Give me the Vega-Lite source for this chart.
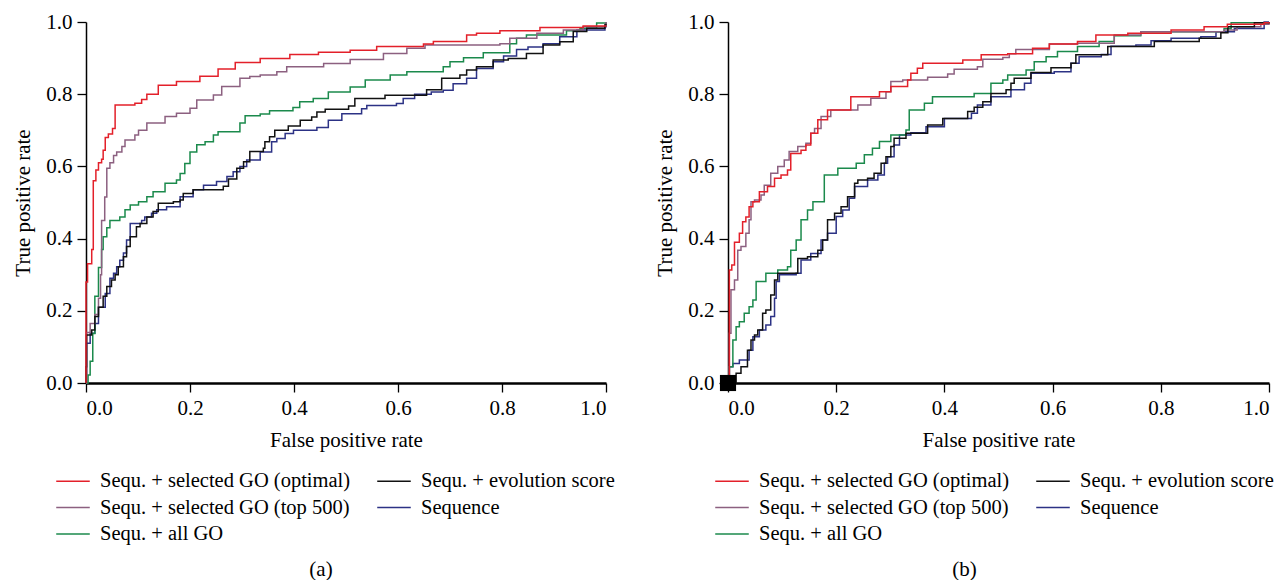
{
  "$schema": "https://vega.github.io/schema/vega-lite/v6.json",
  "padding": {"left": 12, "top": 11, "right": 0, "bottom": 0},
  "background": "white",
  "config": {
    "view": {"stroke": null},
    "font": "Liberation Serif, Times New Roman, DejaVu Serif, serif",
    "concat": {"spacing": 39},
    "axis": {
      "domainColor": "black", "domainWidth": 1.5, "tickColor": "black", "tickSize": 9, "tickWidth": 1.3,
      "labelFont": "Liberation Serif, Times New Roman, DejaVu Serif, serif", "labelFontSize": 21, "labelColor": "black", "labelPadding": 5,
      "titleFont": "Liberation Serif, Times New Roman, DejaVu Serif, serif", "titleFontSize": 21, "titleFontWeight": "normal", "titleColor": "black",
      "grid": false
    },
    "axisX": {"domainWidth": 2.5, "titlePadding": 11},
    "axisY": {"titlePadding": 12},
    "legend": {
      "orient": "none", "columns": 2, "symbolType": "M-1.5,0H1.5", "symbolSize": 500, "symbolStrokeWidth": 1.5, "symbolFillColor": "transparent",
      "labelFont": "Liberation Serif, Times New Roman, DejaVu Serif, serif", "labelFontSize": 20.5, "labelColor": "black", "labelOffset": 15,
      "columnPadding": 23, "rowPadding": 3.5, "labelLimit": 500, "padding": 0
    },
    "title": {"font": "Liberation Serif, Times New Roman, DejaVu Serif, serif", "fontSize": 21, "fontWeight": "normal", "color": "black"}
  },
  "datasets": {
    "a": [
      {"s": "Sequence", "fpr": 0, "tpr": 0}, {"s": "Sequence", "fpr": 0.001, "tpr": 0.11}, {"s": "Sequence", "fpr": 0.008, "tpr": 0.138}, {"s": "Sequence", "fpr": 0.017, "tpr": 0.165}, {"s": "Sequence", "fpr": 0.024, "tpr": 0.21}, {"s": "Sequence", "fpr": 0.037, "tpr": 0.248}, {"s": "Sequence", "fpr": 0.046, "tpr": 0.29}, {"s": "Sequence", "fpr": 0.053, "tpr": 0.304}, {"s": "Sequence", "fpr": 0.059, "tpr": 0.322}, {"s": "Sequence", "fpr": 0.065, "tpr": 0.34}, {"s": "Sequence", "fpr": 0.072, "tpr": 0.36}, {"s": "Sequence", "fpr": 0.078, "tpr": 0.396}, {"s": "Sequence", "fpr": 0.085, "tpr": 0.442}, {"s": "Sequence", "fpr": 0.107, "tpr": 0.45}, {"s": "Sequence", "fpr": 0.113, "tpr": 0.46}, {"s": "Sequence", "fpr": 0.126, "tpr": 0.47}, {"s": "Sequence", "fpr": 0.136, "tpr": 0.48}, {"s": "Sequence", "fpr": 0.155, "tpr": 0.488}, {"s": "Sequence", "fpr": 0.181, "tpr": 0.516}, {"s": "Sequence", "fpr": 0.206, "tpr": 0.535}, {"s": "Sequence", "fpr": 0.226, "tpr": 0.548}, {"s": "Sequence", "fpr": 0.251, "tpr": 0.558}, {"s": "Sequence", "fpr": 0.271, "tpr": 0.572}, {"s": "Sequence", "fpr": 0.283, "tpr": 0.585}, {"s": "Sequence", "fpr": 0.296, "tpr": 0.6}, {"s": "Sequence", "fpr": 0.309, "tpr": 0.618}, {"s": "Sequence", "fpr": 0.335, "tpr": 0.64}, {"s": "Sequence", "fpr": 0.357, "tpr": 0.668}, {"s": "Sequence", "fpr": 0.367, "tpr": 0.677}, {"s": "Sequence", "fpr": 0.383, "tpr": 0.691}, {"s": "Sequence", "fpr": 0.399, "tpr": 0.7}, {"s": "Sequence", "fpr": 0.444, "tpr": 0.708}, {"s": "Sequence", "fpr": 0.466, "tpr": 0.728}, {"s": "Sequence", "fpr": 0.492, "tpr": 0.746}, {"s": "Sequence", "fpr": 0.53, "tpr": 0.76}, {"s": "Sequence", "fpr": 0.54, "tpr": 0.769}, {"s": "Sequence", "fpr": 0.597, "tpr": 0.774}, {"s": "Sequence", "fpr": 0.61, "tpr": 0.788}, {"s": "Sequence", "fpr": 0.632, "tpr": 0.8}, {"s": "Sequence", "fpr": 0.664, "tpr": 0.806}, {"s": "Sequence", "fpr": 0.687, "tpr": 0.811}, {"s": "Sequence", "fpr": 0.706, "tpr": 0.829}, {"s": "Sequence", "fpr": 0.732, "tpr": 0.844}, {"s": "Sequence", "fpr": 0.751, "tpr": 0.871}, {"s": "Sequence", "fpr": 0.783, "tpr": 0.89}, {"s": "Sequence", "fpr": 0.803, "tpr": 0.906}, {"s": "Sequence", "fpr": 0.828, "tpr": 0.924}, {"s": "Sequence", "fpr": 0.85, "tpr": 0.931}, {"s": "Sequence", "fpr": 0.879, "tpr": 0.94}, {"s": "Sequence", "fpr": 0.911, "tpr": 0.959}, {"s": "Sequence", "fpr": 0.944, "tpr": 0.978}, {"s": "Sequence", "fpr": 0.998, "tpr": 0.987}, {"s": "Sequence", "fpr": 1, "tpr": 0.99},
      {"s": "Sequ. + all GO", "fpr": 0, "tpr": 0}, {"s": "Sequ. + all GO", "fpr": 0.004, "tpr": 0.022}, {"s": "Sequ. + all GO", "fpr": 0.008, "tpr": 0.06}, {"s": "Sequ. + all GO", "fpr": 0.013, "tpr": 0.137}, {"s": "Sequ. + all GO", "fpr": 0.017, "tpr": 0.24}, {"s": "Sequ. + all GO", "fpr": 0.024, "tpr": 0.32}, {"s": "Sequ. + all GO", "fpr": 0.03, "tpr": 0.37}, {"s": "Sequ. + all GO", "fpr": 0.033, "tpr": 0.405}, {"s": "Sequ. + all GO", "fpr": 0.04, "tpr": 0.43}, {"s": "Sequ. + all GO", "fpr": 0.046, "tpr": 0.45}, {"s": "Sequ. + all GO", "fpr": 0.065, "tpr": 0.46}, {"s": "Sequ. + all GO", "fpr": 0.075, "tpr": 0.48}, {"s": "Sequ. + all GO", "fpr": 0.085, "tpr": 0.493}, {"s": "Sequ. + all GO", "fpr": 0.101, "tpr": 0.502}, {"s": "Sequ. + all GO", "fpr": 0.117, "tpr": 0.516}, {"s": "Sequ. + all GO", "fpr": 0.129, "tpr": 0.53}, {"s": "Sequ. + all GO", "fpr": 0.152, "tpr": 0.553}, {"s": "Sequ. + all GO", "fpr": 0.174, "tpr": 0.562}, {"s": "Sequ. + all GO", "fpr": 0.181, "tpr": 0.58}, {"s": "Sequ. + all GO", "fpr": 0.19, "tpr": 0.608}, {"s": "Sequ. + all GO", "fpr": 0.2, "tpr": 0.64}, {"s": "Sequ. + all GO", "fpr": 0.213, "tpr": 0.66}, {"s": "Sequ. + all GO", "fpr": 0.229, "tpr": 0.668}, {"s": "Sequ. + all GO", "fpr": 0.245, "tpr": 0.687}, {"s": "Sequ. + all GO", "fpr": 0.254, "tpr": 0.696}, {"s": "Sequ. + all GO", "fpr": 0.296, "tpr": 0.72}, {"s": "Sequ. + all GO", "fpr": 0.306, "tpr": 0.74}, {"s": "Sequ. + all GO", "fpr": 0.335, "tpr": 0.745}, {"s": "Sequ. + all GO", "fpr": 0.353, "tpr": 0.754}, {"s": "Sequ. + all GO", "fpr": 0.398, "tpr": 0.763}, {"s": "Sequ. + all GO", "fpr": 0.411, "tpr": 0.779}, {"s": "Sequ. + all GO", "fpr": 0.437, "tpr": 0.788}, {"s": "Sequ. + all GO", "fpr": 0.466, "tpr": 0.806}, {"s": "Sequ. + all GO", "fpr": 0.508, "tpr": 0.82}, {"s": "Sequ. + all GO", "fpr": 0.537, "tpr": 0.839}, {"s": "Sequ. + all GO", "fpr": 0.585, "tpr": 0.853}, {"s": "Sequ. + all GO", "fpr": 0.617, "tpr": 0.862}, {"s": "Sequ. + all GO", "fpr": 0.687, "tpr": 0.876}, {"s": "Sequ. + all GO", "fpr": 0.7, "tpr": 0.89}, {"s": "Sequ. + all GO", "fpr": 0.726, "tpr": 0.901}, {"s": "Sequ. + all GO", "fpr": 0.764, "tpr": 0.915}, {"s": "Sequ. + all GO", "fpr": 0.815, "tpr": 0.94}, {"s": "Sequ. + all GO", "fpr": 0.828, "tpr": 0.955}, {"s": "Sequ. + all GO", "fpr": 0.847, "tpr": 0.964}, {"s": "Sequ. + all GO", "fpr": 0.924, "tpr": 0.976}, {"s": "Sequ. + all GO", "fpr": 0.95, "tpr": 0.983}, {"s": "Sequ. + all GO", "fpr": 0.982, "tpr": 0.997}, {"s": "Sequ. + all GO", "fpr": 1, "tpr": 1},
      {"s": "Sequ. + selected GO (top 500)", "fpr": 0, "tpr": 0}, {"s": "Sequ. + selected GO (top 500)", "fpr": 0.001, "tpr": 0.14}, {"s": "Sequ. + selected GO (top 500)", "fpr": 0.008, "tpr": 0.165}, {"s": "Sequ. + selected GO (top 500)", "fpr": 0.017, "tpr": 0.19}, {"s": "Sequ. + selected GO (top 500)", "fpr": 0.024, "tpr": 0.235}, {"s": "Sequ. + selected GO (top 500)", "fpr": 0.028, "tpr": 0.3}, {"s": "Sequ. + selected GO (top 500)", "fpr": 0.03, "tpr": 0.45}, {"s": "Sequ. + selected GO (top 500)", "fpr": 0.036, "tpr": 0.515}, {"s": "Sequ. + selected GO (top 500)", "fpr": 0.04, "tpr": 0.595}, {"s": "Sequ. + selected GO (top 500)", "fpr": 0.046, "tpr": 0.61}, {"s": "Sequ. + selected GO (top 500)", "fpr": 0.053, "tpr": 0.63}, {"s": "Sequ. + selected GO (top 500)", "fpr": 0.059, "tpr": 0.64}, {"s": "Sequ. + selected GO (top 500)", "fpr": 0.069, "tpr": 0.655}, {"s": "Sequ. + selected GO (top 500)", "fpr": 0.075, "tpr": 0.673}, {"s": "Sequ. + selected GO (top 500)", "fpr": 0.094, "tpr": 0.687}, {"s": "Sequ. + selected GO (top 500)", "fpr": 0.101, "tpr": 0.7}, {"s": "Sequ. + selected GO (top 500)", "fpr": 0.117, "tpr": 0.72}, {"s": "Sequ. + selected GO (top 500)", "fpr": 0.152, "tpr": 0.738}, {"s": "Sequ. + selected GO (top 500)", "fpr": 0.174, "tpr": 0.747}, {"s": "Sequ. + selected GO (top 500)", "fpr": 0.2, "tpr": 0.761}, {"s": "Sequ. + selected GO (top 500)", "fpr": 0.213, "tpr": 0.784}, {"s": "Sequ. + selected GO (top 500)", "fpr": 0.245, "tpr": 0.798}, {"s": "Sequ. + selected GO (top 500)", "fpr": 0.261, "tpr": 0.821}, {"s": "Sequ. + selected GO (top 500)", "fpr": 0.296, "tpr": 0.844}, {"s": "Sequ. + selected GO (top 500)", "fpr": 0.315, "tpr": 0.849}, {"s": "Sequ. + selected GO (top 500)", "fpr": 0.335, "tpr": 0.853}, {"s": "Sequ. + selected GO (top 500)", "fpr": 0.367, "tpr": 0.862}, {"s": "Sequ. + selected GO (top 500)", "fpr": 0.386, "tpr": 0.876}, {"s": "Sequ. + selected GO (top 500)", "fpr": 0.457, "tpr": 0.885}, {"s": "Sequ. + selected GO (top 500)", "fpr": 0.508, "tpr": 0.896}, {"s": "Sequ. + selected GO (top 500)", "fpr": 0.572, "tpr": 0.913}, {"s": "Sequ. + selected GO (top 500)", "fpr": 0.617, "tpr": 0.927}, {"s": "Sequ. + selected GO (top 500)", "fpr": 0.652, "tpr": 0.936}, {"s": "Sequ. + selected GO (top 500)", "fpr": 0.796, "tpr": 0.94}, {"s": "Sequ. + selected GO (top 500)", "fpr": 0.815, "tpr": 0.955}, {"s": "Sequ. + selected GO (top 500)", "fpr": 0.867, "tpr": 0.969}, {"s": "Sequ. + selected GO (top 500)", "fpr": 0.918, "tpr": 0.978}, {"s": "Sequ. + selected GO (top 500)", "fpr": 0.956, "tpr": 0.987}, {"s": "Sequ. + selected GO (top 500)", "fpr": 0.998, "tpr": 0.994}, {"s": "Sequ. + selected GO (top 500)", "fpr": 1, "tpr": 1},
      {"s": "Sequ. + evolution score", "fpr": 0, "tpr": 0}, {"s": "Sequ. + evolution score", "fpr": 0, "tpr": 0.045}, {"s": "Sequ. + evolution score", "fpr": 0.001, "tpr": 0.133}, {"s": "Sequ. + evolution score", "fpr": 0.011, "tpr": 0.147}, {"s": "Sequ. + evolution score", "fpr": 0.017, "tpr": 0.184}, {"s": "Sequ. + evolution score", "fpr": 0.024, "tpr": 0.21}, {"s": "Sequ. + evolution score", "fpr": 0.033, "tpr": 0.24}, {"s": "Sequ. + evolution score", "fpr": 0.04, "tpr": 0.267}, {"s": "Sequ. + evolution score", "fpr": 0.049, "tpr": 0.285}, {"s": "Sequ. + evolution score", "fpr": 0.056, "tpr": 0.3}, {"s": "Sequ. + evolution score", "fpr": 0.062, "tpr": 0.322}, {"s": "Sequ. + evolution score", "fpr": 0.072, "tpr": 0.35}, {"s": "Sequ. + evolution score", "fpr": 0.078, "tpr": 0.378}, {"s": "Sequ. + evolution score", "fpr": 0.085, "tpr": 0.405}, {"s": "Sequ. + evolution score", "fpr": 0.097, "tpr": 0.433}, {"s": "Sequ. + evolution score", "fpr": 0.104, "tpr": 0.442}, {"s": "Sequ. + evolution score", "fpr": 0.117, "tpr": 0.46}, {"s": "Sequ. + evolution score", "fpr": 0.129, "tpr": 0.475}, {"s": "Sequ. + evolution score", "fpr": 0.139, "tpr": 0.498}, {"s": "Sequ. + evolution score", "fpr": 0.168, "tpr": 0.502}, {"s": "Sequ. + evolution score", "fpr": 0.181, "tpr": 0.507}, {"s": "Sequ. + evolution score", "fpr": 0.187, "tpr": 0.525}, {"s": "Sequ. + evolution score", "fpr": 0.206, "tpr": 0.535}, {"s": "Sequ. + evolution score", "fpr": 0.264, "tpr": 0.545}, {"s": "Sequ. + evolution score", "fpr": 0.274, "tpr": 0.565}, {"s": "Sequ. + evolution score", "fpr": 0.29, "tpr": 0.595}, {"s": "Sequ. + evolution score", "fpr": 0.303, "tpr": 0.613}, {"s": "Sequ. + evolution score", "fpr": 0.315, "tpr": 0.641}, {"s": "Sequ. + evolution score", "fpr": 0.341, "tpr": 0.65}, {"s": "Sequ. + evolution score", "fpr": 0.344, "tpr": 0.668}, {"s": "Sequ. + evolution score", "fpr": 0.353, "tpr": 0.682}, {"s": "Sequ. + evolution score", "fpr": 0.363, "tpr": 0.7}, {"s": "Sequ. + evolution score", "fpr": 0.389, "tpr": 0.712}, {"s": "Sequ. + evolution score", "fpr": 0.412, "tpr": 0.728}, {"s": "Sequ. + evolution score", "fpr": 0.434, "tpr": 0.737}, {"s": "Sequ. + evolution score", "fpr": 0.444, "tpr": 0.751}, {"s": "Sequ. + evolution score", "fpr": 0.46, "tpr": 0.758}, {"s": "Sequ. + evolution score", "fpr": 0.505, "tpr": 0.767}, {"s": "Sequ. + evolution score", "fpr": 0.517, "tpr": 0.788}, {"s": "Sequ. + evolution score", "fpr": 0.575, "tpr": 0.797}, {"s": "Sequ. + evolution score", "fpr": 0.655, "tpr": 0.812}, {"s": "Sequ. + evolution score", "fpr": 0.684, "tpr": 0.844}, {"s": "Sequ. + evolution score", "fpr": 0.719, "tpr": 0.853}, {"s": "Sequ. + evolution score", "fpr": 0.732, "tpr": 0.867}, {"s": "Sequ. + evolution score", "fpr": 0.751, "tpr": 0.876}, {"s": "Sequ. + evolution score", "fpr": 0.783, "tpr": 0.895}, {"s": "Sequ. + evolution score", "fpr": 0.812, "tpr": 0.899}, {"s": "Sequ. + evolution score", "fpr": 0.847, "tpr": 0.913}, {"s": "Sequ. + evolution score", "fpr": 0.879, "tpr": 0.936}, {"s": "Sequ. + evolution score", "fpr": 0.911, "tpr": 0.945}, {"s": "Sequ. + evolution score", "fpr": 0.937, "tpr": 0.974}, {"s": "Sequ. + evolution score", "fpr": 0.963, "tpr": 0.983}, {"s": "Sequ. + evolution score", "fpr": 0.998, "tpr": 0.992}, {"s": "Sequ. + evolution score", "fpr": 1, "tpr": 0.995},
      {"s": "Sequ. + selected GO (optimal)", "fpr": 0, "tpr": 0}, {"s": "Sequ. + selected GO (optimal)", "fpr": 0, "tpr": 0.28}, {"s": "Sequ. + selected GO (optimal)", "fpr": 0.003, "tpr": 0.33}, {"s": "Sequ. + selected GO (optimal)", "fpr": 0.011, "tpr": 0.37}, {"s": "Sequ. + selected GO (optimal)", "fpr": 0.014, "tpr": 0.56}, {"s": "Sequ. + selected GO (optimal)", "fpr": 0.019, "tpr": 0.59}, {"s": "Sequ. + selected GO (optimal)", "fpr": 0.024, "tpr": 0.61}, {"s": "Sequ. + selected GO (optimal)", "fpr": 0.03, "tpr": 0.62}, {"s": "Sequ. + selected GO (optimal)", "fpr": 0.033, "tpr": 0.645}, {"s": "Sequ. + selected GO (optimal)", "fpr": 0.037, "tpr": 0.68}, {"s": "Sequ. + selected GO (optimal)", "fpr": 0.043, "tpr": 0.69}, {"s": "Sequ. + selected GO (optimal)", "fpr": 0.051, "tpr": 0.705}, {"s": "Sequ. + selected GO (optimal)", "fpr": 0.056, "tpr": 0.77}, {"s": "Sequ. + selected GO (optimal)", "fpr": 0.094, "tpr": 0.775}, {"s": "Sequ. + selected GO (optimal)", "fpr": 0.107, "tpr": 0.785}, {"s": "Sequ. + selected GO (optimal)", "fpr": 0.117, "tpr": 0.8}, {"s": "Sequ. + selected GO (optimal)", "fpr": 0.139, "tpr": 0.825}, {"s": "Sequ. + selected GO (optimal)", "fpr": 0.174, "tpr": 0.835}, {"s": "Sequ. + selected GO (optimal)", "fpr": 0.219, "tpr": 0.85}, {"s": "Sequ. + selected GO (optimal)", "fpr": 0.254, "tpr": 0.87}, {"s": "Sequ. + selected GO (optimal)", "fpr": 0.287, "tpr": 0.888}, {"s": "Sequ. + selected GO (optimal)", "fpr": 0.335, "tpr": 0.899}, {"s": "Sequ. + selected GO (optimal)", "fpr": 0.392, "tpr": 0.91}, {"s": "Sequ. + selected GO (optimal)", "fpr": 0.447, "tpr": 0.916}, {"s": "Sequ. + selected GO (optimal)", "fpr": 0.508, "tpr": 0.922}, {"s": "Sequ. + selected GO (optimal)", "fpr": 0.559, "tpr": 0.932}, {"s": "Sequ. + selected GO (optimal)", "fpr": 0.649, "tpr": 0.939}, {"s": "Sequ. + selected GO (optimal)", "fpr": 0.668, "tpr": 0.946}, {"s": "Sequ. + selected GO (optimal)", "fpr": 0.732, "tpr": 0.964}, {"s": "Sequ. + selected GO (optimal)", "fpr": 0.751, "tpr": 0.969}, {"s": "Sequ. + selected GO (optimal)", "fpr": 0.796, "tpr": 0.976}, {"s": "Sequ. + selected GO (optimal)", "fpr": 0.873, "tpr": 0.985}, {"s": "Sequ. + selected GO (optimal)", "fpr": 0.956, "tpr": 0.989}, {"s": "Sequ. + selected GO (optimal)", "fpr": 1, "tpr": 0.99}
    ],
    "b": [
      {"s": "Sequence", "fpr": 0, "tpr": 0}, {"s": "Sequence", "fpr": 0.0025, "tpr": 0.045}, {"s": "Sequence", "fpr": 0.009, "tpr": 0.054}, {"s": "Sequence", "fpr": 0.021, "tpr": 0.064}, {"s": "Sequence", "fpr": 0.039, "tpr": 0.091}, {"s": "Sequence", "fpr": 0.046, "tpr": 0.128}, {"s": "Sequence", "fpr": 0.058, "tpr": 0.147}, {"s": "Sequence", "fpr": 0.07, "tpr": 0.161}, {"s": "Sequence", "fpr": 0.079, "tpr": 0.184}, {"s": "Sequence", "fpr": 0.086, "tpr": 0.235}, {"s": "Sequence", "fpr": 0.089, "tpr": 0.281}, {"s": "Sequence", "fpr": 0.095, "tpr": 0.3}, {"s": "Sequence", "fpr": 0.126, "tpr": 0.304}, {"s": "Sequence", "fpr": 0.135, "tpr": 0.341}, {"s": "Sequence", "fpr": 0.153, "tpr": 0.359}, {"s": "Sequence", "fpr": 0.172, "tpr": 0.396}, {"s": "Sequence", "fpr": 0.184, "tpr": 0.415}, {"s": "Sequence", "fpr": 0.2, "tpr": 0.461}, {"s": "Sequence", "fpr": 0.212, "tpr": 0.479}, {"s": "Sequence", "fpr": 0.224, "tpr": 0.512}, {"s": "Sequence", "fpr": 0.234, "tpr": 0.544}, {"s": "Sequence", "fpr": 0.258, "tpr": 0.562}, {"s": "Sequence", "fpr": 0.277, "tpr": 0.576}, {"s": "Sequence", "fpr": 0.289, "tpr": 0.609}, {"s": "Sequence", "fpr": 0.295, "tpr": 0.627}, {"s": "Sequence", "fpr": 0.307, "tpr": 0.659}, {"s": "Sequence", "fpr": 0.317, "tpr": 0.687}, {"s": "Sequence", "fpr": 0.338, "tpr": 0.693}, {"s": "Sequence", "fpr": 0.366, "tpr": 0.71}, {"s": "Sequence", "fpr": 0.4, "tpr": 0.733}, {"s": "Sequence", "fpr": 0.45, "tpr": 0.747}, {"s": "Sequence", "fpr": 0.461, "tpr": 0.77}, {"s": "Sequence", "fpr": 0.486, "tpr": 0.793}, {"s": "Sequence", "fpr": 0.523, "tpr": 0.812}, {"s": "Sequence", "fpr": 0.548, "tpr": 0.83}, {"s": "Sequence", "fpr": 0.56, "tpr": 0.858}, {"s": "Sequence", "fpr": 0.603, "tpr": 0.862}, {"s": "Sequence", "fpr": 0.634, "tpr": 0.886}, {"s": "Sequence", "fpr": 0.649, "tpr": 0.904}, {"s": "Sequence", "fpr": 0.69, "tpr": 0.91}, {"s": "Sequence", "fpr": 0.708, "tpr": 0.933}, {"s": "Sequence", "fpr": 0.754, "tpr": 0.936}, {"s": "Sequence", "fpr": 0.782, "tpr": 0.948}, {"s": "Sequence", "fpr": 0.819, "tpr": 0.955}, {"s": "Sequence", "fpr": 0.874, "tpr": 0.959}, {"s": "Sequence", "fpr": 0.902, "tpr": 0.973}, {"s": "Sequence", "fpr": 0.936, "tpr": 0.982}, {"s": "Sequence", "fpr": 0.991, "tpr": 1}, {"s": "Sequence", "fpr": 1, "tpr": 1},
      {"s": "Sequ. + all GO", "fpr": 0, "tpr": 0}, {"s": "Sequ. + all GO", "fpr": 0.0025, "tpr": 0.045}, {"s": "Sequ. + all GO", "fpr": 0.009, "tpr": 0.119}, {"s": "Sequ. + all GO", "fpr": 0.015, "tpr": 0.156}, {"s": "Sequ. + all GO", "fpr": 0.021, "tpr": 0.17}, {"s": "Sequ. + all GO", "fpr": 0.03, "tpr": 0.193}, {"s": "Sequ. + all GO", "fpr": 0.039, "tpr": 0.211}, {"s": "Sequ. + all GO", "fpr": 0.046, "tpr": 0.23}, {"s": "Sequ. + all GO", "fpr": 0.052, "tpr": 0.281}, {"s": "Sequ. + all GO", "fpr": 0.07, "tpr": 0.304}, {"s": "Sequ. + all GO", "fpr": 0.092, "tpr": 0.313}, {"s": "Sequ. + all GO", "fpr": 0.11, "tpr": 0.322}, {"s": "Sequ. + all GO", "fpr": 0.116, "tpr": 0.368}, {"s": "Sequ. + all GO", "fpr": 0.126, "tpr": 0.396}, {"s": "Sequ. + all GO", "fpr": 0.135, "tpr": 0.452}, {"s": "Sequ. + all GO", "fpr": 0.147, "tpr": 0.479}, {"s": "Sequ. + all GO", "fpr": 0.157, "tpr": 0.502}, {"s": "Sequ. + all GO", "fpr": 0.178, "tpr": 0.576}, {"s": "Sequ. + all GO", "fpr": 0.203, "tpr": 0.595}, {"s": "Sequ. + all GO", "fpr": 0.237, "tpr": 0.609}, {"s": "Sequ. + all GO", "fpr": 0.252, "tpr": 0.632}, {"s": "Sequ. + all GO", "fpr": 0.267, "tpr": 0.65}, {"s": "Sequ. + all GO", "fpr": 0.28, "tpr": 0.669}, {"s": "Sequ. + all GO", "fpr": 0.301, "tpr": 0.687}, {"s": "Sequ. + all GO", "fpr": 0.329, "tpr": 0.701}, {"s": "Sequ. + all GO", "fpr": 0.335, "tpr": 0.756}, {"s": "Sequ. + all GO", "fpr": 0.363, "tpr": 0.775}, {"s": "Sequ. + all GO", "fpr": 0.378, "tpr": 0.793}, {"s": "Sequ. + all GO", "fpr": 0.455, "tpr": 0.802}, {"s": "Sequ. + all GO", "fpr": 0.486, "tpr": 0.83}, {"s": "Sequ. + all GO", "fpr": 0.508, "tpr": 0.839}, {"s": "Sequ. + all GO", "fpr": 0.517, "tpr": 0.853}, {"s": "Sequ. + all GO", "fpr": 0.551, "tpr": 0.867}, {"s": "Sequ. + all GO", "fpr": 0.566, "tpr": 0.89}, {"s": "Sequ. + all GO", "fpr": 0.588, "tpr": 0.904}, {"s": "Sequ. + all GO", "fpr": 0.609, "tpr": 0.918}, {"s": "Sequ. + all GO", "fpr": 0.646, "tpr": 0.932}, {"s": "Sequ. + all GO", "fpr": 0.686, "tpr": 0.946}, {"s": "Sequ. + all GO", "fpr": 0.714, "tpr": 0.962}, {"s": "Sequ. + all GO", "fpr": 0.763, "tpr": 0.973}, {"s": "Sequ. + all GO", "fpr": 0.917, "tpr": 0.982}, {"s": "Sequ. + all GO", "fpr": 0.93, "tpr": 0.998}, {"s": "Sequ. + all GO", "fpr": 1, "tpr": 1},
      {"s": "Sequ. + selected GO (top 500)", "fpr": 0, "tpr": 0}, {"s": "Sequ. + selected GO (top 500)", "fpr": 0.0025, "tpr": 0.138}, {"s": "Sequ. + selected GO (top 500)", "fpr": 0.0055, "tpr": 0.258}, {"s": "Sequ. + selected GO (top 500)", "fpr": 0.012, "tpr": 0.285}, {"s": "Sequ. + selected GO (top 500)", "fpr": 0.018, "tpr": 0.368}, {"s": "Sequ. + selected GO (top 500)", "fpr": 0.024, "tpr": 0.378}, {"s": "Sequ. + selected GO (top 500)", "fpr": 0.033, "tpr": 0.415}, {"s": "Sequ. + selected GO (top 500)", "fpr": 0.039, "tpr": 0.452}, {"s": "Sequ. + selected GO (top 500)", "fpr": 0.0425, "tpr": 0.502}, {"s": "Sequ. + selected GO (top 500)", "fpr": 0.049, "tpr": 0.507}, {"s": "Sequ. + selected GO (top 500)", "fpr": 0.061, "tpr": 0.521}, {"s": "Sequ. + selected GO (top 500)", "fpr": 0.067, "tpr": 0.548}, {"s": "Sequ. + selected GO (top 500)", "fpr": 0.079, "tpr": 0.581}, {"s": "Sequ. + selected GO (top 500)", "fpr": 0.092, "tpr": 0.6}, {"s": "Sequ. + selected GO (top 500)", "fpr": 0.104, "tpr": 0.618}, {"s": "Sequ. + selected GO (top 500)", "fpr": 0.113, "tpr": 0.641}, {"s": "Sequ. + selected GO (top 500)", "fpr": 0.129, "tpr": 0.655}, {"s": "Sequ. + selected GO (top 500)", "fpr": 0.144, "tpr": 0.664}, {"s": "Sequ. + selected GO (top 500)", "fpr": 0.153, "tpr": 0.692}, {"s": "Sequ. + selected GO (top 500)", "fpr": 0.16, "tpr": 0.705}, {"s": "Sequ. + selected GO (top 500)", "fpr": 0.172, "tpr": 0.738}, {"s": "Sequ. + selected GO (top 500)", "fpr": 0.19, "tpr": 0.756}, {"s": "Sequ. + selected GO (top 500)", "fpr": 0.24, "tpr": 0.77}, {"s": "Sequ. + selected GO (top 500)", "fpr": 0.264, "tpr": 0.789}, {"s": "Sequ. + selected GO (top 500)", "fpr": 0.292, "tpr": 0.807}, {"s": "Sequ. + selected GO (top 500)", "fpr": 0.301, "tpr": 0.835}, {"s": "Sequ. + selected GO (top 500)", "fpr": 0.323, "tpr": 0.839}, {"s": "Sequ. + selected GO (top 500)", "fpr": 0.369, "tpr": 0.847}, {"s": "Sequ. + selected GO (top 500)", "fpr": 0.406, "tpr": 0.856}, {"s": "Sequ. + selected GO (top 500)", "fpr": 0.418, "tpr": 0.869}, {"s": "Sequ. + selected GO (top 500)", "fpr": 0.461, "tpr": 0.876}, {"s": "Sequ. + selected GO (top 500)", "fpr": 0.471, "tpr": 0.897}, {"s": "Sequ. + selected GO (top 500)", "fpr": 0.508, "tpr": 0.902}, {"s": "Sequ. + selected GO (top 500)", "fpr": 0.52, "tpr": 0.912}, {"s": "Sequ. + selected GO (top 500)", "fpr": 0.532, "tpr": 0.924}, {"s": "Sequ. + selected GO (top 500)", "fpr": 0.594, "tpr": 0.939}, {"s": "Sequ. + selected GO (top 500)", "fpr": 0.646, "tpr": 0.941}, {"s": "Sequ. + selected GO (top 500)", "fpr": 0.714, "tpr": 0.964}, {"s": "Sequ. + selected GO (top 500)", "fpr": 0.763, "tpr": 0.973}, {"s": "Sequ. + selected GO (top 500)", "fpr": 0.917, "tpr": 0.978}, {"s": "Sequ. + selected GO (top 500)", "fpr": 0.941, "tpr": 0.987}, {"s": "Sequ. + selected GO (top 500)", "fpr": 0.985, "tpr": 0.994}, {"s": "Sequ. + selected GO (top 500)", "fpr": 1, "tpr": 1},
      {"s": "Sequ. + evolution score", "fpr": 0, "tpr": 0}, {"s": "Sequ. + evolution score", "fpr": 0.015, "tpr": 0.027}, {"s": "Sequ. + evolution score", "fpr": 0.024, "tpr": 0.045}, {"s": "Sequ. + evolution score", "fpr": 0.036, "tpr": 0.091}, {"s": "Sequ. + evolution score", "fpr": 0.0425, "tpr": 0.119}, {"s": "Sequ. + evolution score", "fpr": 0.049, "tpr": 0.133}, {"s": "Sequ. + evolution score", "fpr": 0.055, "tpr": 0.147}, {"s": "Sequ. + evolution score", "fpr": 0.064, "tpr": 0.193}, {"s": "Sequ. + evolution score", "fpr": 0.07, "tpr": 0.202}, {"s": "Sequ. + evolution score", "fpr": 0.079, "tpr": 0.244}, {"s": "Sequ. + evolution score", "fpr": 0.086, "tpr": 0.285}, {"s": "Sequ. + evolution score", "fpr": 0.092, "tpr": 0.304}, {"s": "Sequ. + evolution score", "fpr": 0.129, "tpr": 0.345}, {"s": "Sequ. + evolution score", "fpr": 0.147, "tpr": 0.35}, {"s": "Sequ. + evolution score", "fpr": 0.166, "tpr": 0.368}, {"s": "Sequ. + evolution score", "fpr": 0.175, "tpr": 0.396}, {"s": "Sequ. + evolution score", "fpr": 0.184, "tpr": 0.452}, {"s": "Sequ. + evolution score", "fpr": 0.197, "tpr": 0.47}, {"s": "Sequ. + evolution score", "fpr": 0.209, "tpr": 0.488}, {"s": "Sequ. + evolution score", "fpr": 0.221, "tpr": 0.516}, {"s": "Sequ. + evolution score", "fpr": 0.234, "tpr": 0.553}, {"s": "Sequ. + evolution score", "fpr": 0.24, "tpr": 0.562}, {"s": "Sequ. + evolution score", "fpr": 0.258, "tpr": 0.567}, {"s": "Sequ. + evolution score", "fpr": 0.27, "tpr": 0.581}, {"s": "Sequ. + evolution score", "fpr": 0.283, "tpr": 0.609}, {"s": "Sequ. + evolution score", "fpr": 0.292, "tpr": 0.627}, {"s": "Sequ. + evolution score", "fpr": 0.301, "tpr": 0.655}, {"s": "Sequ. + evolution score", "fpr": 0.307, "tpr": 0.678}, {"s": "Sequ. + evolution score", "fpr": 0.329, "tpr": 0.692}, {"s": "Sequ. + evolution score", "fpr": 0.369, "tpr": 0.715}, {"s": "Sequ. + evolution score", "fpr": 0.397, "tpr": 0.733}, {"s": "Sequ. + evolution score", "fpr": 0.443, "tpr": 0.752}, {"s": "Sequ. + evolution score", "fpr": 0.455, "tpr": 0.764}, {"s": "Sequ. + evolution score", "fpr": 0.471, "tpr": 0.779}, {"s": "Sequ. + evolution score", "fpr": 0.486, "tpr": 0.802}, {"s": "Sequ. + evolution score", "fpr": 0.514, "tpr": 0.812}, {"s": "Sequ. + evolution score", "fpr": 0.523, "tpr": 0.83}, {"s": "Sequ. + evolution score", "fpr": 0.529, "tpr": 0.844}, {"s": "Sequ. + evolution score", "fpr": 0.56, "tpr": 0.86}, {"s": "Sequ. + evolution score", "fpr": 0.597, "tpr": 0.873}, {"s": "Sequ. + evolution score", "fpr": 0.634, "tpr": 0.886}, {"s": "Sequ. + evolution score", "fpr": 0.643, "tpr": 0.909}, {"s": "Sequ. + evolution score", "fpr": 0.702, "tpr": 0.932}, {"s": "Sequ. + evolution score", "fpr": 0.788, "tpr": 0.946}, {"s": "Sequ. + evolution score", "fpr": 0.871, "tpr": 0.955}, {"s": "Sequ. + evolution score", "fpr": 0.911, "tpr": 0.97}, {"s": "Sequ. + evolution score", "fpr": 0.924, "tpr": 0.987}, {"s": "Sequ. + evolution score", "fpr": 0.973, "tpr": 0.998}, {"s": "Sequ. + evolution score", "fpr": 1, "tpr": 1},
      {"s": "Sequ. + selected GO (optimal)", "fpr": 0, "tpr": 0}, {"s": "Sequ. + selected GO (optimal)", "fpr": 0.0025, "tpr": 0.313}, {"s": "Sequ. + selected GO (optimal)", "fpr": 0.007, "tpr": 0.327}, {"s": "Sequ. + selected GO (optimal)", "fpr": 0.012, "tpr": 0.39}, {"s": "Sequ. + selected GO (optimal)", "fpr": 0.021, "tpr": 0.415}, {"s": "Sequ. + selected GO (optimal)", "fpr": 0.027, "tpr": 0.447}, {"s": "Sequ. + selected GO (optimal)", "fpr": 0.033, "tpr": 0.46}, {"s": "Sequ. + selected GO (optimal)", "fpr": 0.039, "tpr": 0.488}, {"s": "Sequ. + selected GO (optimal)", "fpr": 0.046, "tpr": 0.502}, {"s": "Sequ. + selected GO (optimal)", "fpr": 0.058, "tpr": 0.53}, {"s": "Sequ. + selected GO (optimal)", "fpr": 0.073, "tpr": 0.544}, {"s": "Sequ. + selected GO (optimal)", "fpr": 0.086, "tpr": 0.567}, {"s": "Sequ. + selected GO (optimal)", "fpr": 0.098, "tpr": 0.576}, {"s": "Sequ. + selected GO (optimal)", "fpr": 0.11, "tpr": 0.59}, {"s": "Sequ. + selected GO (optimal)", "fpr": 0.116, "tpr": 0.636}, {"s": "Sequ. + selected GO (optimal)", "fpr": 0.135, "tpr": 0.645}, {"s": "Sequ. + selected GO (optimal)", "fpr": 0.144, "tpr": 0.659}, {"s": "Sequ. + selected GO (optimal)", "fpr": 0.153, "tpr": 0.692}, {"s": "Sequ. + selected GO (optimal)", "fpr": 0.166, "tpr": 0.729}, {"s": "Sequ. + selected GO (optimal)", "fpr": 0.184, "tpr": 0.756}, {"s": "Sequ. + selected GO (optimal)", "fpr": 0.227, "tpr": 0.793}, {"s": "Sequ. + selected GO (optimal)", "fpr": 0.28, "tpr": 0.807}, {"s": "Sequ. + selected GO (optimal)", "fpr": 0.301, "tpr": 0.821}, {"s": "Sequ. + selected GO (optimal)", "fpr": 0.332, "tpr": 0.839}, {"s": "Sequ. + selected GO (optimal)", "fpr": 0.338, "tpr": 0.858}, {"s": "Sequ. + selected GO (optimal)", "fpr": 0.35, "tpr": 0.872}, {"s": "Sequ. + selected GO (optimal)", "fpr": 0.36, "tpr": 0.886}, {"s": "Sequ. + selected GO (optimal)", "fpr": 0.434, "tpr": 0.895}, {"s": "Sequ. + selected GO (optimal)", "fpr": 0.468, "tpr": 0.909}, {"s": "Sequ. + selected GO (optimal)", "fpr": 0.517, "tpr": 0.912}, {"s": "Sequ. + selected GO (optimal)", "fpr": 0.563, "tpr": 0.927}, {"s": "Sequ. + selected GO (optimal)", "fpr": 0.594, "tpr": 0.939}, {"s": "Sequ. + selected GO (optimal)", "fpr": 0.646, "tpr": 0.946}, {"s": "Sequ. + selected GO (optimal)", "fpr": 0.68, "tpr": 0.964}, {"s": "Sequ. + selected GO (optimal)", "fpr": 0.739, "tpr": 0.969}, {"s": "Sequ. + selected GO (optimal)", "fpr": 0.819, "tpr": 0.978}, {"s": "Sequ. + selected GO (optimal)", "fpr": 0.88, "tpr": 0.987}, {"s": "Sequ. + selected GO (optimal)", "fpr": 0.923, "tpr": 0.994}, {"s": "Sequ. + selected GO (optimal)", "fpr": 0.991, "tpr": 0.998}, {"s": "Sequ. + selected GO (optimal)", "fpr": 1, "tpr": 1}
    ],
    "marker": [{"fpr": 0, "tpr": 0}]
  },
  "hconcat": [
    {
      "width": 520, "height": 361,
      "title": {"text": "(a)", "orient": "bottom", "anchor": "middle", "frame": "group", "offset": 14, "dx": -25},
      "data": {"name": "a"},
      "mark": {"type": "line", "interpolate": "step-after", "strokeWidth": 1.5},
      "encoding": {
        "x": {"field": "fpr", "type": "quantitative", "scale": {"domain": [0, 1], "nice": false}, "axis": {"title": "False positive rate", "values": [0, 0.2, 0.4, 0.6, 0.8, 1], "format": ".1f"}},
        "y": {"field": "tpr", "type": "quantitative", "scale": {"domain": [0, 1], "nice": false}, "axis": {"title": "True positive rate", "values": [0, 0.2, 0.4, 0.6, 0.8, 1], "format": ".1f"}},
        "color": {
          "field": "s", "type": "nominal",
          "scale": {"domain": ["Sequ. + selected GO (optimal)", "Sequ. + selected GO (top 500)", "Sequ. + all GO", "Sequ. + evolution score", "Sequence"], "range": ["#e3202a", "#8c6080", "#1b8a4c", "#111111", "#2c3285"]},
          "legend": {"title": null, "legendX": -25, "legendY": 447}
        }
      }
    },
    {
      "width": 541, "height": 361,
      "title": {"text": "(b)", "orient": "bottom", "anchor": "middle", "frame": "group", "offset": 14, "dx": -34},
      "layer": [
        {
          "data": {"name": "b"},
          "mark": {"type": "line", "interpolate": "step-after", "strokeWidth": 1.5},
          "encoding": {
            "x": {"field": "fpr", "type": "quantitative", "scale": {"domain": [0, 1], "nice": false}, "axis": {"title": "False positive rate", "values": [0, 0.2, 0.4, 0.6, 0.8, 1], "format": ".1f"}},
            "y": {"field": "tpr", "type": "quantitative", "scale": {"domain": [0, 1], "nice": false}, "axis": {"title": "True positive rate", "values": [0, 0.2, 0.4, 0.6, 0.8, 1], "format": ".1f"}},
            "color": {
              "field": "s", "type": "nominal",
              "scale": {"domain": ["Sequ. + selected GO (optimal)", "Sequ. + selected GO (top 500)", "Sequ. + all GO", "Sequ. + evolution score", "Sequence"], "range": ["#e3202a", "#8c6080", "#1b8a4c", "#111111", "#2c3285"]},
              "legend": {"title": null, "legendX": -8, "legendY": 447}
            }
          }
        },
        {
          "data": {"name": "marker"},
          "mark": {"type": "point", "shape": "square", "filled": true, "color": "black", "size": 260, "opacity": 1},
          "encoding": {
            "x": {"field": "fpr", "type": "quantitative"},
            "y": {"field": "tpr", "type": "quantitative"}
          }
        }
      ]
    }
  ],
  "resolve": {"scale": {"color": "independent"}, "legend": {"color": "independent"}}
}
